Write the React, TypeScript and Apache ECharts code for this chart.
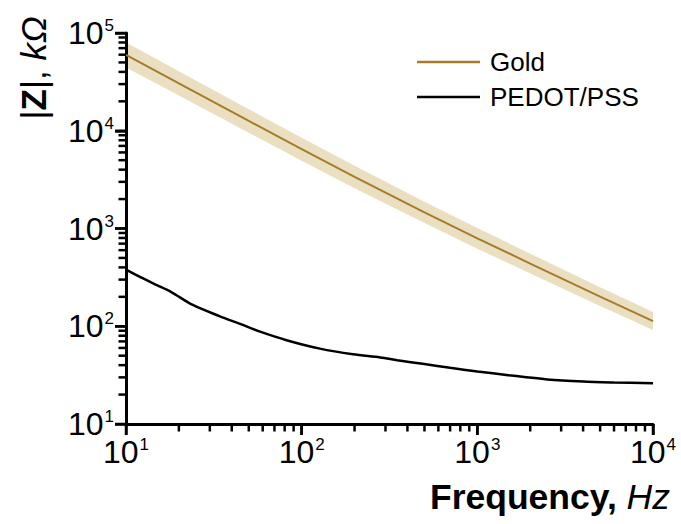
import React, { useEffect, useRef } from 'react';
import * as echarts from 'echarts';

const goldFreq = [10, 20, 50, 100, 200, 500, 1000, 2000, 5000, 10000];
const goldZ = [59600, 30500, 12600, 6470, 3370, 1460, 794, 438, 201, 113];
const goldUpper = [80000, 40600, 16600, 8490, 4390, 1880, 1010, 553, 251, 140];
const goldLower = [44400, 22900, 9530, 4930, 2580, 1140, 622, 346, 161, 91.4];

const pedotFreq = [10, 12, 15, 18, 24, 34, 45, 58, 82, 127, 196, 280, 350, 500, 700, 1000, 1500, 2500, 4000, 6000, 10000];
const pedotZ = [380, 320, 263, 225, 165, 127, 105, 88, 72, 59, 51.6, 48, 45, 41, 37.6, 34.5, 31.6, 28.6, 27.2, 26.6, 26.1];

const xMajorTicks = [10, 100, 1000, 10000];
const yMajorTicks = [10, 100, 1000, 10000, 100000];
const xMinorTicks = [20, 30, 40, 50, 60, 70, 80, 90, 200, 300, 400, 500, 600, 700, 800, 900, 2000, 3000, 4000, 5000, 6000, 7000, 8000, 9000];
const yMinorTicks = [20, 30, 40, 50, 60, 70, 80, 90, 200, 300, 400, 500, 600, 700, 800, 900, 2000, 3000, 4000, 5000, 6000, 7000, 8000, 9000, 20000, 30000, 40000, 50000, 60000, 70000, 80000, 90000];

const seriesNames = ['Gold', 'PEDOT/PSS'];

const FONT = "'Liberation Sans', Arial, Helvetica, sans-serif";
const GOLD_LINE = '#A67C2C';
const GOLD_BAND = '#EADFC1';

const powLabel = (v: number) => `{b|10}{s|${Math.round(Math.log10(v))}}`;

function makeRich() {
  return {
    b: { fontSize: 32, fontFamily: FONT, color: '#000' },
    s: { fontSize: 17, fontFamily: FONT, color: '#000', verticalAlign: 'top', padding: [0, 0, 8, 1] },
  };
}

function makeAxis(min: number, max: number, margin: number) {
  return {
    type: 'log',
    min,
    max,
    axisLine: { show: true, lineStyle: { color: '#000', width: 3 } },
    axisTick: { show: true, length: 11, lineStyle: { color: '#000', width: 2.5 } },
    splitLine: { show: false },
    axisLabel: { formatter: powLabel, rich: makeRich(), margin },
  };
}

export default function App() {
  const ref = useRef<HTMLDivElement>(null);
  useEffect(() => {
    if (!ref.current) return;
    const chart = echarts.init(ref.current, undefined, { renderer: 'svg' });
    const texts: any[] = [
      {
        type: 'text',
        x: 33,
        y: 68,
        rotation: Math.PI / 2,
        style: {
          text: '{n||}{z|Z}{n||, }{i|kΩ}',
          align: 'center',
          verticalAlign: 'middle',
          rich: {
            n: { fontSize: 35, fontFamily: FONT, fill: '#000' },
            z: { fontSize: 35, fontFamily: FONT, fontWeight: 'bold', fill: '#000' },
            i: { fontSize: 35, fontFamily: FONT, fontStyle: 'italic', fill: '#000' },
          },
        },
      },
      {
        type: 'text',
        x: 670,
        y: 497,
        style: {
          text: '{b|Frequency, }{i|Hz}',
          align: 'right',
          verticalAlign: 'middle',
          rich: {
            b: { fontSize: 35.5, fontFamily: FONT, fontWeight: 'bold', fill: '#000' },
            i: { fontSize: 35.5, fontFamily: FONT, fontStyle: 'italic', fill: '#000' },
          },
        },
      },
    ];
    const option: any = {
      animation: false,
      grid: { left: 126, right: 28, top: 33, bottom: 100 },
      legend: {
        orient: 'vertical',
        left: 412,
        top: 44,
        itemWidth: 63,
        itemHeight: 2.5,
        itemGap: 9,
        icon: 'rect',
        textStyle: { fontSize: 26, color: '#000', fontFamily: FONT, padding: [0, 0, 0, 5] },
        data: seriesNames,
      },
      xAxis: makeAxis(10, 10000, 12),
      yAxis: makeAxis(10, 100000, 12),
      graphic: texts,
      series: [
        {
          type: 'line',
          name: seriesNames[0],
          color: GOLD_LINE,
          clip: false,
          data: goldFreq.map((f, i) => [f, goldZ[i]]),
          showSymbol: false,
          symbol: 'none',
          lineStyle: { color: GOLD_LINE, width: 2 },
        },
        {
          type: 'line',
          name: seriesNames[1],
          color: '#000',
          clip: false,
          data: pedotFreq.map((f, i) => [f, pedotZ[i]]),
          showSymbol: false,
          symbol: 'none',
          smooth: 0.3,
          lineStyle: { color: '#000', width: 2.5 },
        },
      ],
    };
    chart.setOption(option);

    const toPx = (x: number, y: number) => chart.convertToPixel({ gridIndex: 0 }, [x, y]) as number[];

    // confidence band of the gold electrode, placed through the chart's log scales
    const up = goldFreq.map((f, i) => toPx(f, goldUpper[i]));
    const lo = goldFreq.map((f, i) => toPx(f, goldLower[i])).reverse();
    const band = { type: 'polygon', silent: true, z: -1, shape: { points: up.concat(lo) }, style: { fill: GOLD_BAND } };

    // tick marks as filled rectangles, positioned through the chart's own log scales
    const TW = 2.5;
    const ticks: any[] = [];
    const xTick = (v: number, len: number) => {
      const p = toPx(v, 10);
      ticks.push({ type: 'rect', z: 10, shape: { x: p[0] - TW / 2, y: p[1], width: TW, height: len }, style: { fill: '#000' } });
    };
    const yTick = (v: number, len: number) => {
      const p = toPx(10, v);
      ticks.push({ type: 'rect', z: 10, shape: { x: p[0] - len, y: p[1] - TW / 2, width: len, height: TW }, style: { fill: '#000' } });
    };
    xMajorTicks.forEach((v) => xTick(v, 11));
    xMinorTicks.forEach((v) => xTick(v, 7.5));
    yMajorTicks.forEach((v) => yTick(v, 11));
    yMinorTicks.forEach((v) => yTick(v, 7.5));
    chart.setOption({ graphic: texts.concat([band], ticks) });

    return () => chart.dispose();
  }, []);
  return <div ref={ref} style={{ position: 'absolute', left: 0, top: 0, width: 681, height: 524 }} />;
}
